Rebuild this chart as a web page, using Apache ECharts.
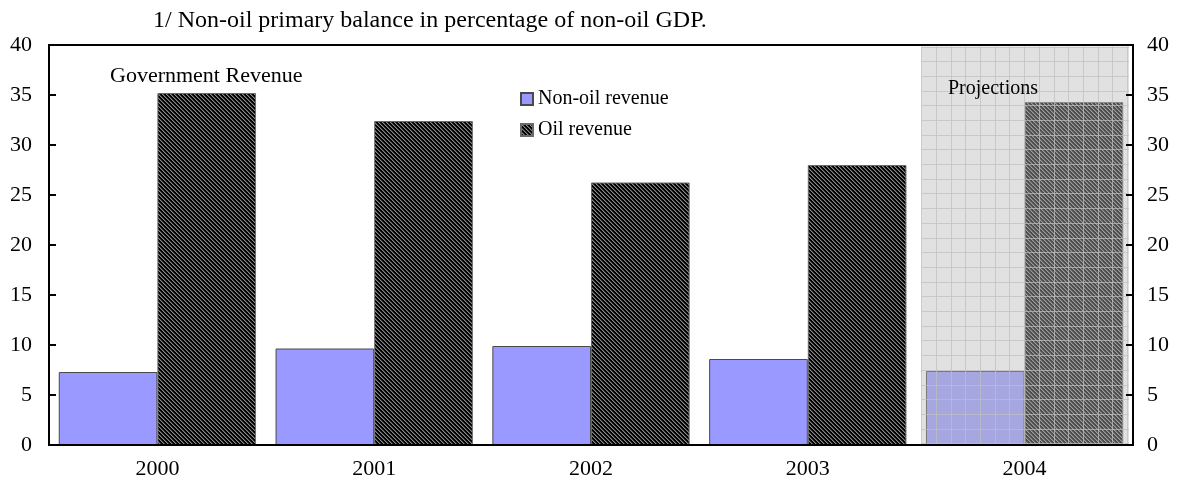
<!DOCTYPE html>
<html>
<head>
<meta charset="utf-8">
<script src="https://cdn.jsdelivr.net/npm/echarts@6/dist/echarts.min.js"></script>
<style>
  html, body { margin: 0; padding: 0; background: #fff; }
  #chart { width: 1177px; height: 492px; }
</style>
</head>
<body>
<div id="chart"></div>
<script>
// Government revenue, percent of non-oil GDP
const years = ['2000', '2001', '2002', '2003', '2004'];
const nonOilRevenue = [7.3, 9.65, 9.9, 8.6, 7.4];
const oilRevenue = [35.2, 32.4, 26.25, 28.0, 34.3];
const projectionYears = ['2004'];
const yTicks = { min: 0, max: 40, interval: 5 };

const FONT = 'Liberation Serif';

// Black fill with fine grey "\" hatching for oil revenue
function hatchPattern() {
  const c = document.createElement('canvas');
  c.width = 4; c.height = 4;
  const g = c.getContext('2d');
  g.fillStyle = '#000';
  g.fillRect(0, 0, 4, 4);
  for (let i = 0; i < 4; i++) {
    g.fillStyle = '#8a8a8a';
    g.fillRect(i, i, 1, 1);
    g.fillStyle = '#3c3c3c';
    g.fillRect((i + 1) % 4, i, 1, 1);
  }
  return c;
}

const chart = echarts.init(document.getElementById('chart'), null, { renderer: 'canvas' });

// Shaded projection band with a light grid over it
function renderProjection(params, api) {
  const idx = api.value(0);
  const topPt = api.coord([idx, api.value(1)]);
  const botPt = api.coord([idx, 0]);
  const bandW = api.size([1, 0])[0];
  const x0 = topPt[0] - bandW / 2 + 5;
  const x1 = topPt[0] + bandW / 2 - 4;
  const y0 = topPt[1] + 1.5;
  const y1 = botPt[1];
  const step = 14.7;
  const children = [{
    type: 'rect',
    shape: { x: x0, y: y0, width: x1 - x0, height: y1 - y0 },
    style: { fill: 'rgba(183,183,183,0.42)' }
  }];
  const lineStyle = { stroke: 'rgba(191,191,191,0.72)', lineWidth: 1 };
  for (let x = x0; x <= x1 + 0.1; x += step) {
    const px = Math.round(x) + 0.5;
    children.push({ type: 'line', shape: { x1: px, y1: y0, x2: px, y2: y1 }, style: lineStyle });
  }
  for (let y = y0; y <= y1 + 0.1; y += step) {
    const py = Math.round(y) + 0.5;
    children.push({ type: 'line', shape: { x1: x0, y1: py, x2: x1, y2: py }, style: lineStyle });
  }
  return { type: 'group', children };
}

const axisText = { color: '#000', fontFamily: FONT, fontSize: 22 };

chart.setOption({
  animation: false,
  textStyle: { fontFamily: FONT },
  grid: {
    left: 49, right: 44, top: 45, bottom: 47,
    show: true, borderColor: '#000', borderWidth: 2, backgroundColor: 'transparent'
  },
  legend: {
    data: ['Non-oil revenue', 'Oil revenue'],
    orient: 'vertical',
    left: 515, top: 84,
    itemWidth: 12, itemHeight: 12, itemGap: 11,
    icon: 'rect',
    textStyle: { color: '#000', fontFamily: FONT, fontSize: 20 }
  },
  graphic: [
    {
      type: 'text', left: 153, top: 9,
      style: { text: '1/ Non-oil primary balance in percentage of non-oil GDP.', fill: '#000', font: '24px "Liberation Serif"' }
    },
    {
      type: 'text', left: 110, top: 65,
      style: { text: 'Government Revenue', fill: '#000', font: '22px "Liberation Serif"' }
    },
    {
      type: 'text', left: 948, top: 79, z: 20,
      style: { text: 'Projections', fill: '#000', font: '20px "Liberation Serif"' }
    }
  ],
  xAxis: {
    type: 'category',
    data: years,
    z: 10,
    axisLine: { lineStyle: { color: '#000', width: 2 } },
    axisTick: { show: false },
    axisLabel: Object.assign({ margin: 13 }, axisText),
    splitLine: { show: false }
  },
  yAxis: [
    {
      type: 'value', position: 'left', z: 10,
      min: yTicks.min, max: yTicks.max, interval: yTicks.interval,
      axisLine: { show: true, lineStyle: { color: '#000', width: 2 } },
      axisTick: { show: true, inside: true, length: 7, lineStyle: { color: '#000', width: 2 } },
      axisLabel: Object.assign({ margin: 17 }, axisText),
      splitLine: { show: false }
    },
    {
      type: 'value', position: 'right', z: 10,
      min: yTicks.min, max: yTicks.max, interval: yTicks.interval,
      axisLine: { show: true, lineStyle: { color: '#000', width: 2 } },
      axisTick: { show: true, inside: true, length: 7, lineStyle: { color: '#000', width: 2 } },
      axisLabel: Object.assign({ margin: 14 }, axisText),
      splitLine: { show: false }
    }
  ],
  series: [
    {
      name: 'Non-oil revenue',
      type: 'bar',
      data: nonOilRevenue,
      barGap: '0%',
      barCategoryGap: '9%',
      itemStyle: { color: '#9999ff', borderColor: '#4a4a4a', borderWidth: 1 }
    },
    {
      name: 'Oil revenue',
      type: 'bar',
      data: oilRevenue,
      barGap: '0%',
      barCategoryGap: '9%',
      itemStyle: {
        color: { image: hatchPattern(), repeat: 'repeat' },
        borderColor: '#6a6a6a', borderWidth: 1
      }
    },
    {
      name: 'projection',
      type: 'custom',
      z: 5,
      silent: true,
      renderItem: renderProjection,
      data: projectionYears.map(y => [y, yTicks.max]),
      encode: { x: 0, y: 1 }
    }
  ]
});
</script>
</body>
</html>
